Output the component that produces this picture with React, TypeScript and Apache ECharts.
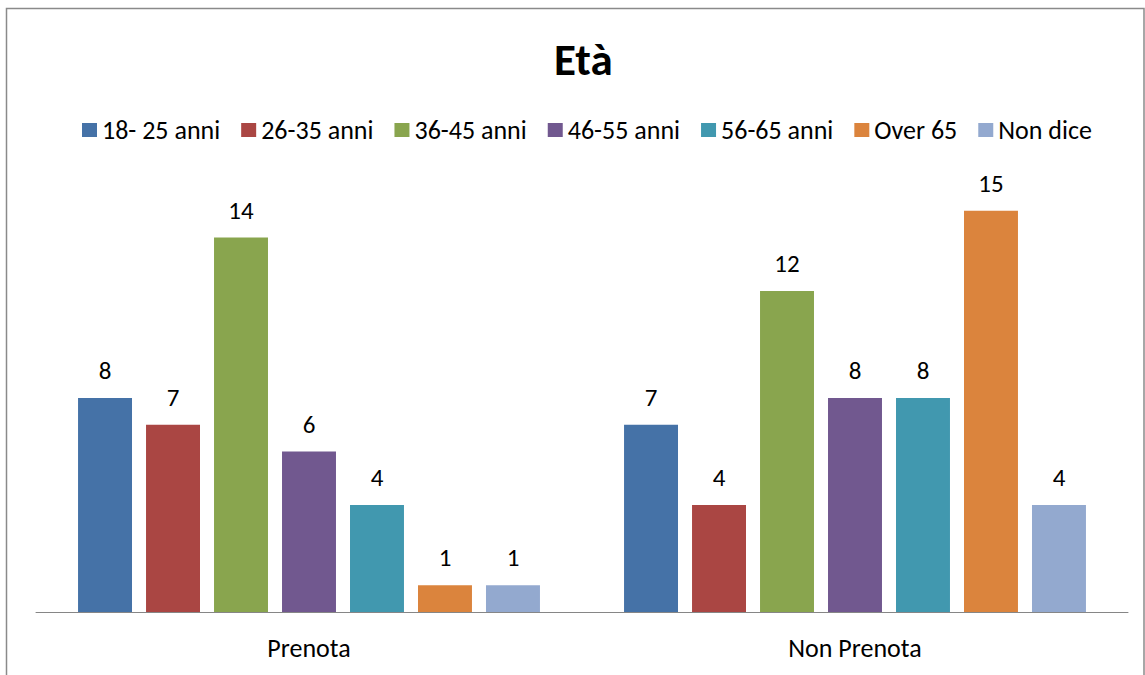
import React, { useEffect, useRef } from "react";
import * as echarts from "echarts";

const categories = ["Prenota", "Non Prenota"];
const seriesNames = ["18- 25 anni", "26-35 anni", "36-45 anni", "46-55 anni", "56-65 anni", "Over 65", "Non dice"];
const seriesValues = [
  [8, 7],
  [7, 4],
  [14, 12],
  [6, 8],
  [4, 8],
  [1, 15],
  [1, 4],
];
const colors = ["#4572A7", "#AA4643", "#89A54E", "#71588F", "#4198AF", "#DB843D", "#93A9CF"];

const FONT = "Carlito, Lato, 'Open Sans', sans-serif";

export default function App() {
  const ref = useRef<HTMLDivElement>(null);
  useEffect(() => {
    if (!ref.current) return;
    const chart = echarts.init(ref.current, null, { renderer: "svg" });
    chart.setOption({
      animation: false,
      backgroundColor: "#ffffff",
      title: {
        text: "Età",
        left: 549,
        top: 32,
        textStyle: { fontFamily: FONT, fontWeight: "bold", fontSize: 45, color: "#000" },
      },
      legend: {
        top: 112,
        left: 77,
        itemWidth: 15,
        itemHeight: 14,
        itemGap: 21,
        icon: "rect",
        textStyle: { fontFamily: FONT, fontSize: 26, color: "#000" },
        data: seriesNames,
      },
      grid: { left: 36, right: 17, top: 184, bottom: 63 },
      xAxis: {
        type: "category",
        data: categories,
        axisLine: { lineStyle: { color: "#868686", width: 1 } },
        axisTick: { show: false },
        axisLabel: { fontFamily: FONT, fontSize: 26, color: "#000", margin: 23 },
      },
      yAxis: {
        type: "value",
        min: 0,
        max: 16,
        show: false,
        splitLine: { show: false },
      },
      graphic: [
        {
          type: "rect",
          shape: { x: 6.5, y: 8.5, width: 1137.5, height: 700 },
          style: { fill: "none", stroke: "#8a8a8a", lineWidth: 1.5 },
          silent: true,
        },
      ],
      series: seriesNames.map((name, i) => ({
        name,
        type: "bar",
        data: seriesValues[i],
        barGap: "26%",
        barCategoryGap: "15.4%",
        itemStyle: { color: colors[i] },
        label: {
          show: true,
          position: "top",
          distance: 15,
          fontFamily: FONT,
          fontSize: 25,
          color: "#000",
        },
      })),
    });
    return () => chart.dispose();
  }, []);
  return (
    <div
      ref={ref}
      style={{ position: "fixed", left: 0, top: 0, width: 1145, height: 675 }}
    />
  );
}
